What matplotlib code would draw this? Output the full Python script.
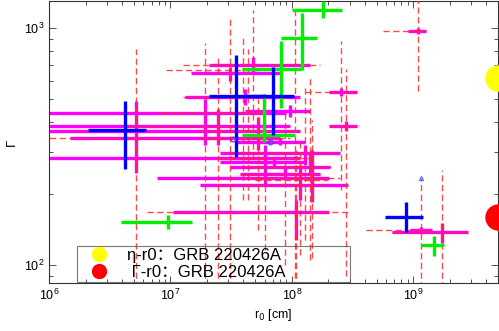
import numpy as np
import matplotlib
matplotlib.use("Agg")
import matplotlib.pyplot as plt
from matplotlib.lines import Line2D

plt.rcParams['font.family'] = ['Liberation Sans', 'Noto Sans CJK SC', 'DejaVu Sans']

# ---------------- data ----------------
# magenta points: centre, x-range, y-range
mag_x   = [4.8e7, 3.1e7, 4.1e7, 2.46e7, 1.92e7, 5.25e7, 5.2e6, 6.0e7, 1.16e8, 1.08e8, 1.46e8,
           1.41e8, 1.28e8, 8.75e7, 2.53e8, 2.78e8, 1.09e9, 1.72e9, 1.17e9, 7.96e7, 9.6e7, 7.2e7]
mag_xlo = [2.1e7, 1.47e7, 1.32e7, 7e5, 7e5, 7e5, 1.49e6, 7e5, 7.7e6, 1.05e7, 1.75e7,
           3.09e7, 2.55e7, 3.73e7, 2.02e8, 2.02e8, 9.0e8, 6.65e8, 9.4e8, 3.4e7, 4.1e7, 2.55e7]
mag_xhi = [1.4e8, 8.0e7, 1.16e8, 9.0e7, 9.6e7, 1.16e8, 8.0e7, 1.16e8, 2.02e8, 2.02e8, 2.89e8,
           2.05e8, 2.48e8, 1.70e8, 3.43e8, 3.43e8, 1.27e9, 2.81e9, 1.42e9, 1.28e8, 1.41e8, 1.28e8]
mag_y   = [697, 644, 511, 436, 385, 366, 342, 284, 234, 168, 218,
           260, 298, 241, 536, 385, 971, 138, 141, 332, 445, 273]
mag_ylo = [638, 596, 472, 322, 322, 307, 245, 218, 188, 128, 185,
           241, 265, 229, 515, 366, 943, 124, 137, 322, 420, 260]
mag_yhi = [754, 684, 552, 454, 500, 420, 491, 322, 265, 188, 307,
           293, 322, 258, 557, 404, 1000, 151, 145, 342, 472, 284]

# red dashed points
red_x   = [5.2e6, 1.92e7, 2.46e7, 3.09e7, 3.95e7, 4.78e7, 1.06e8, 1.08e8, 1.46e8, 2.53e8, 2.78e8,
           1.09e9, 1.17e9, 1.72e9, 1.41e8, 1.28e8, 4.35e7, 5.25e7, 8.75e7, 6.0e7, 1.16e8]
red_xlo = [7e5, 4.5e6, 8.2e6, 9.2e6, 1.27e7, 1.27e7, 5.0e7, 6.4e6, 2.55e7, 1.28e8, 2.02e8,
           5.61e8, 4.06e8, 6.65e8, 4.5e7, 3.09e7, 1.75e7, 1.75e7, 3.73e7, 2.55e7, 4.5e7]
red_xhi = [8.2e6, 4.1e7, 6.0e7, 6.0e7, 9.6e7, 1.70e8, 2.0e8, 3.0e8, 2.05e8, 3.43e8, 3.6e8,
           1.27e9, 1.42e9, 2.81e9, 2.1e8, 2.48e8, 9.6e7, 1.16e8, 1.70e8, 1.41e8, 2.48e8]
red_y   = [342, 385, 436, 664, 511, 697, 229, 168, 218, 536, 385,
           971, 141, 138, 260, 298, 342, 366, 241, 284, 234]
red_ylo = [80, 80, 80, 80, 188, 279, 80, 80, 107, 208, 90,
           541, 80, 80, 105, 128, 188, 141, 100, 116, 110]
red_yhi = [815, 864, 761, 1124, 925, 1192, 1239, 307, 411, 881, 670,
           1400, 234, 252, 620, 562, 815, 500, 454, 411, 339]

# green points
grn_x   = [9.5e6, 1.8e8, 1.21e8, 8.1e7, 5.9e7, 1.48e9]
grn_xlo = [3.9e6, 1.0e8, 8.1e7, 3.9e7, 3.9e7, 1.17e9]
grn_xhi = [1.5e7, 2.6e8, 1.6e8, 1.2e8, 1.06e8, 1.8e9]
grn_y   = [152, 1191, 907, 670, 352, 122]
grn_ylo = [142, 1102, 664, 462, 330, 109]
grn_yhi = [163, 1301, 1158, 881, 525, 132]

# blue points
blu_x   = [4.2e6, 3.5e7, 7.0e7, 8.8e8]
blu_xlo = [2.1e6, 2.07e7, 4.1e7, 5.9e8]
blu_xhi = [6.3e6, 6.0e7, 1.04e8, 1.2e9]
blu_y   = [373, 515, 515, 160]
blu_ylo = [253, 287, 352, 138]
blu_yhi = [490, 769, 684, 185]

# small blue markers
bm_x = [3.27e7, 6.6e7]
bm_y = [339, 332]
bt_x = [1.17e9]
bt_y = [234]

# GRB 220426A
grb_r0 = [5.0e9, 5.0e9]
grb_val = [614, 160]
grb_colors = ['#ffff00', '#ff0000']
grb_labels = ['η-r0：GRB 220426A', ' Γ-r0：GRB 220426A']

# ---------------- plot ----------------
fig = plt.figure(figsize=(4.99, 3.31), dpi=100)
ax = fig.add_axes([49/499, 48/331, 449/499, 282/331])


def draw(xs, xlo, xhi, ys, ylo, yhi, color, lw, dashed=False, alpha=1.0, z=2):
    xs = np.array(xs); ys = np.array(ys)
    xerr = [xs - np.array(xlo), np.array(xhi) - xs]
    yerr = [ys - np.array(ylo), np.array(yhi) - ys]
    eb = ax.errorbar(xs, ys, xerr=xerr, yerr=yerr, fmt='none', ecolor=color,
                     elinewidth=lw, capsize=0, alpha=alpha, zorder=z)
    if dashed:
        for lc in eb[2]:
            lc.set_linestyle((0, (4.5, 2.5)))
    return eb


draw(mag_x, mag_xlo, mag_xhi, mag_y, mag_ylo, mag_yhi, '#ff00ff', 2.4, z=2)
draw(red_x, red_xlo, red_xhi, red_y, red_ylo, red_yhi, '#ff2a2a', 1.0, dashed=True, alpha=0.85, z=3)
draw(grn_x, grn_xlo, grn_xhi, grn_y, grn_ylo, grn_yhi, '#00ee00', 2.4, z=4)
draw(blu_x, blu_xlo, blu_xhi, blu_y, blu_ylo, blu_yhi, '#0000ff', 2.4, z=5)
ax.plot(bm_x, bm_y, 'o', mfc='none', mec='#4040ff', ms=3.5, mew=0.8, zorder=6)
ax.plot(bt_x, bt_y, '^', mfc='none', mec='#6060ff', ms=3, mew=0.8, zorder=6)

for xv, yv, c in zip(grb_r0, grb_val, grb_colors):
    ax.plot([xv], [yv], 'o', color=c, ms=18, mec=c, clip_on=False, zorder=7)

ax.set_xscale('log')
ax.set_yscale('log')
ax.set_xlim(1e6, 5e9)
ax.set_ylim(84, 1300)

ax.tick_params(which='both', direction='in', top=True, right=True, labelsize=9,
               width=0.6, color='#333333')
ax.tick_params(which='major', length=5)
ax.tick_params(which='minor', length=3)
for s in ax.spines.values():
    s.set_linewidth(0.8)
    s.set_color('#333333')

ax.set_xlabel('r$_0$ [cm]', fontsize=9, labelpad=3)
ax.set_ylabel('Γ', fontsize=9.5, labelpad=4)

handles = [Line2D([], [], marker='o', ls='none', color=c, mec=c, ms=10) for c in grb_colors]
leg = ax.legend(handles, grb_labels, loc='lower left',
                bbox_to_anchor=(0.062, 0.005, 0.608, 0.158), mode='expand',
                fontsize=12, frameon=True, fancybox=False, borderaxespad=0,
                handletextpad=0.5, borderpad=0.12, labelspacing=0.1,
                handlelength=2.4)
frame = leg.get_frame()
frame.set_facecolor('none')
frame.set_edgecolor('#555555')
frame.set_linewidth(0.8)
leg.set_zorder(10)

fig.savefig('out.png', dpi=100)
